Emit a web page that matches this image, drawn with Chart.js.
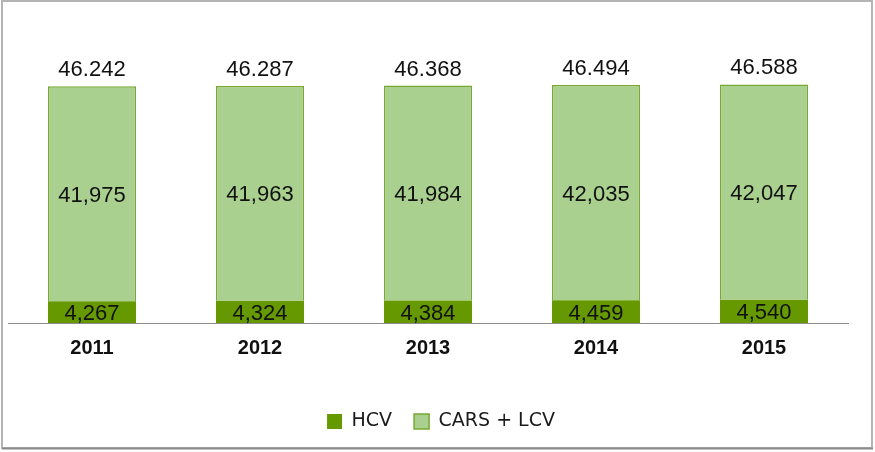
<!DOCTYPE html>
<html lang="en">
<head>
    <meta charset="UTF-8">
    <title>HCV vs CARS + LCV</title>
    <script src="https://cdn.jsdelivr.net/npm/chart.js"></script>
    <style>
        * { margin: 0; padding: 0; box-sizing: border-box; }
        body { background: #fff; }
        canvas { display: block; }
    </style>
</head>
<body>
    <canvas id="barChart" width="875" height="452"></canvas>

    <script>
        // Data
        const years = ['2011', '2012', '2013', '2014', '2015'];
        const hcv = [4267, 4324, 4384, 4459, 4540];
        const carsLcv = [41975, 41963, 41984, 42035, 42047];
        // totals as printed above the bars (source rounds 2015 to 46.588)
        const totals = ['46.242', '46.287', '46.368', '46.494', '46.588'];

        const darkGreen = '#669900';
        const lightGreen = '#a9d08e';

        function fmt(v) {
            return String(v).replace(/\B(?=(\d{3})+(?!\d))/g, ',');
        }

        // frame around the picture
        const framePlugin = {
            id: 'frame',
            beforeDraw(chart) {
                const ctx = chart.ctx;
                ctx.save();
                ctx.fillStyle = '#fff';
                ctx.fillRect(0, 0, chart.width, chart.height);
                ctx.strokeStyle = '#b4b4b4';
                ctx.lineWidth = 2;
                ctx.strokeRect(2, 1, 870, 447);
                ctx.strokeStyle = '#8a8a8a';
                ctx.beginPath();
                ctx.moveTo(2, 448.5);
                ctx.lineTo(873, 448.5);
                ctx.stroke();
                ctx.restore();
            }
        };

        // the legend sits a bit right of the plot centre in the original
        const legendShift = {
            id: 'legendShift',
            afterLayout(chart) {
                if (chart.legend) {
                    chart.legend.left += 13;
                    chart.legend.right += 13;
                }
            }
        };

        // value labels inside segments and totals above bars
        const labelPlugin = {
            id: 'labels',
            afterDatasetsDraw(chart) {
                const ctx = chart.ctx;
                ctx.save();
                ctx.font = '22px "Liberation Sans", Arial, sans-serif';
                ctx.fillStyle = '#111';
                ctx.textAlign = 'center';
                ctx.textBaseline = 'middle';
                chart.data.datasets.forEach((ds, i) => {
                    chart.getDatasetMeta(i).data.forEach((bar, j) => {
                        ctx.fillText(fmt(ds.data[j]), bar.x, (bar.y + bar.base) / 2 + 2);
                    });
                });
                ctx.textBaseline = 'alphabetic';
                chart.getDatasetMeta(1).data.forEach((bar, j) => {
                    ctx.fillText(totals[j], bar.x, bar.y - 10);
                });
                ctx.restore();
            }
        };

        new Chart(document.getElementById('barChart'), {
            type: 'bar',
            data: {
                labels: years,
                datasets: [{
                    label: 'HCV',
                    data: hcv,
                    backgroundColor: darkGreen,
                    borderColor: darkGreen,
                    borderWidth: 0
                }, {
                    label: 'CARS + LCV',
                    data: carsLcv,
                    backgroundColor: lightGreen,
                    borderColor: '#77a832',
                    borderWidth: 1.5
                }]
            },
            options: {
                responsive: false,
                animation: false,
                devicePixelRatio: 1,
                layout: { padding: { top: 67, left: 8, right: 27, bottom: 11 } },
                datasets: { bar: { categoryPercentage: 1, barPercentage: 0.524 } },
                scales: {
                    x: {
                        stacked: true,
                        grid: { display: false, drawTicks: false },
                        border: { display: true, color: '#8c8c8c', width: 1 },
                        ticks: {
                            padding: 13,
                            color: '#111',
                            font: { family: '"Liberation Sans", Arial, sans-serif', size: 20, weight: 'bold' }
                        },
                        afterFit(scale) { scale.height = 67; }
                    },
                    y: {
                        stacked: true,
                        display: false,
                        min: 0,
                        max: 50000
                    }
                },
                plugins: {
                    legend: {
                        position: 'bottom',
                        labels: {
                            boxWidth: 15,
                            boxHeight: 15,
                            padding: 22,
                            color: '#1a1a1a',
                            font: { family: '"DejaVu Sans", sans-serif', size: 19 }
                        }
                    },
                    tooltip: { enabled: false }
                }
            },
            plugins: [framePlugin, legendShift, labelPlugin]
        });
    </script>
</body>
</html>
